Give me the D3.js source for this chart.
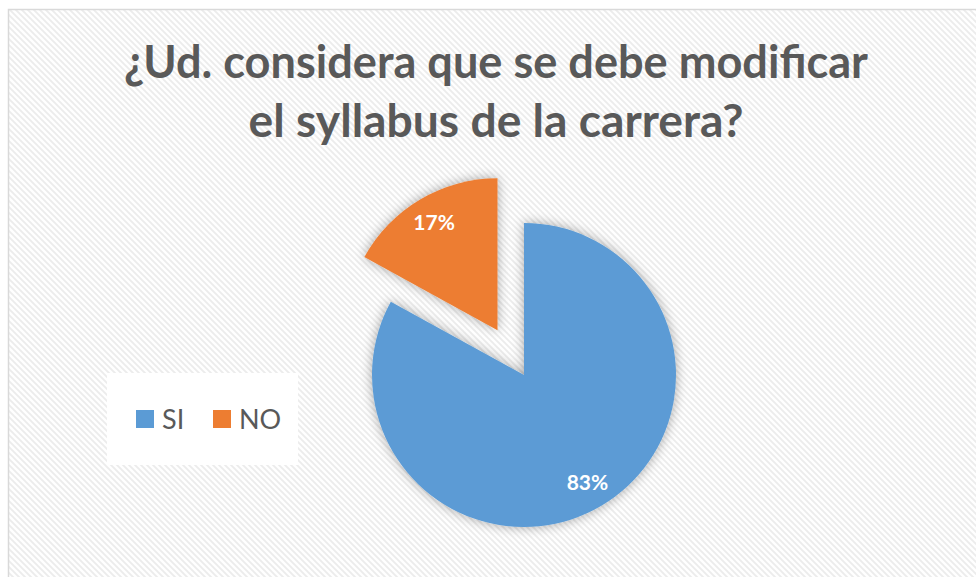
<!DOCTYPE html>
<html><head><meta charset="utf-8">
<script src="https://cdn.jsdelivr.net/npm/d3@7"></script>
<style>html,body{margin:0;padding:0;background:#fff;}svg{display:block;}</style>
</head><body>
<svg id="chart" width="976" height="577"></svg>
<script>
const categories = ["SI", "NO"];
const values = [83, 17];
const labels = ["83%", "17%"];
const colors = ["#5B9BD5", "#ED7D31"];
const titleLines = ["¿Ud. considera que se debe modificar", "el syllabus de la carrera?"];

const svg = d3.select("#chart");
const W = 976, H = 577;
const defs = svg.append("defs");
const pat = defs.append("pattern").attr("id","hatch").attr("patternUnits","userSpaceOnUse")
  .attr("width",6).attr("height",6);
pat.append("rect").attr("width",6).attr("height",6).attr("fill","#ffffff");
pat.append("path").attr("d","M-1,-1 L7,7 M-1,5 L1,7 M5,-1 L7,1").attr("stroke","#ececec").attr("stroke-width",1.8);
const f = defs.append("filter").attr("id","shadow").attr("x","-30%").attr("y","-30%").attr("width","160%").attr("height","160%");
f.append("feGaussianBlur").attr("in","SourceAlpha").attr("stdDeviation",6).attr("result","b");
f.append("feComponentTransfer").attr("in","b").attr("result","b2").append("feFuncA").attr("type","linear").attr("slope",0.35);
const m = f.append("feMerge"); m.append("feMergeNode").attr("in","b2"); m.append("feMergeNode").attr("in","SourceGraphic");

svg.append("rect").attr("width",W).attr("height",H).attr("fill","#fff");
svg.append("rect").attr("x",8.5).attr("y",9.5).attr("width",W+10).attr("height",H+10)
  .attr("fill","url(#hatch)").attr("stroke","#d9d9d9").attr("stroke-width",1.5);

// title
const title = svg.append("g");
const targetW = [744, 495];
const ty = [78, 137];
titleLines.forEach((t,i)=>{
  const el = title.append("text").attr("x",496).attr("y",ty[i]).attr("text-anchor","middle")
    .attr("font-family","Lato, 'Open Sans', sans-serif").attr("font-weight","bold")
    .attr("font-size",44).attr("fill","#595959").text(t);
  const w = el.node().getComputedTextLength();
  el.attr("font-size", 44*targetW[i]/w);
});

// pie
const cx = 524, cy = 375, r = 152, explode = 52;
const pie = d3.pie().sort(null).value(d=>d)(values);
const arc = d3.arc().innerRadius(0).outerRadius(r);
const g = svg.append("g").attr("transform",`translate(${cx},${cy})`);
const slices = g.selectAll("g.s").data(pie).join("g").attr("class","s")
  .attr("transform",(d,i)=>{
    if(i===1){const a=(d.startAngle+d.endAngle)/2; return `translate(${explode*Math.sin(a)},${-explode*Math.cos(a)})`;}
    return null;
  });
slices.append("path").attr("d",arc).attr("fill",(d,i)=>colors[i]).attr("filter","url(#shadow)");
slices.append("text").attr("transform",d=>{const a=(d.startAngle+d.endAngle)/2;const k=0.82*r;return `translate(${k*Math.sin(a)},${-k*Math.cos(a)})`;})
  .attr("text-anchor","middle").attr("dy","0.35em").attr("fill","#fff")
  .attr("font-family","Lato, 'Open Sans', sans-serif").attr("font-weight","bold").attr("font-size",21)
  .text((d,i)=>labels[i]);

// legend
const lg = svg.append("g");
lg.append("rect").attr("x",107).attr("y",373).attr("width",191).attr("height",92).attr("fill","#fff");
const lx = [136, 213];
categories.forEach((c,i)=>{
  lg.append("rect").attr("x",lx[i]).attr("y",410).attr("width",18).attr("height",18).attr("fill",colors[i]);
  lg.append("text").attr("x",lx[i]+26).attr("y",429).attr("font-family","Lato, 'Open Sans', sans-serif")
    .attr("font-size",27).attr("fill","#595959").text(c);
});
</script>
</body></html>
